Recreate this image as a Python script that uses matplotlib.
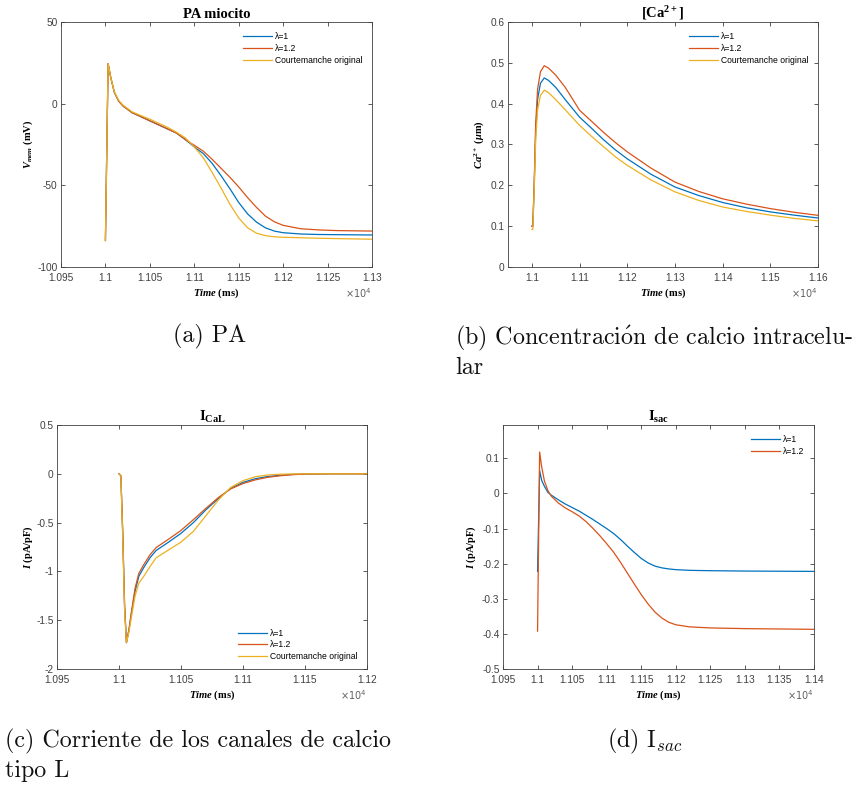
import matplotlib
matplotlib.use("Agg")
import matplotlib.pyplot as plt
from matplotlib.ticker import FixedLocator, FuncFormatter

# ---- data (time in ms) ----
# (a) action potential
t_pa = [11000, 11003, 11006, 11010, 11015, 11020, 11030, 11040, 11050, 11060,
        11070, 11080, 11090, 11100, 11110, 11120, 11130, 11140, 11150, 11160,
        11170, 11180, 11190, 11200, 11220, 11240, 11260, 11300]
v_l1 = [-83.7, 24.5, 16, 7, 1.5, -1.5, -5.5, -8, -10.5, -13,
        -15.5, -18, -22, -26.5, -30.5, -36.5, -44, -52, -60.5, -67.5,
        -72.5, -76, -78, -79, -79.8, -80.1, -80.2, -80.4]
v_l12 = [-83.7, 24.5, 16, 7, 1.5, -1.5, -5.5, -8, -10.5, -13,
         -15.5, -18, -22, -25.5, -29, -34, -39.5, -45, -51, -57.5,
         -63.5, -68.8, -72.3, -74.5, -76.6, -77.3, -77.7, -78]
v_orig = [-84, 24.5, 16, 7.3, 2, -1, -5, -7.3, -9.5, -12,
          -14.5, -17.5, -21, -26.5, -33, -42, -51.5, -61.5, -70, -76,
          -79.3, -80.8, -81.5, -81.8, -82.1, -82.4, -82.6, -83]

# (b) intracellular calcium
t_ca = [11000, 11002, 11005, 11008, 11012, 11018, 11026, 11035, 11050, 11070,
        11100, 11125, 11150, 11175, 11200, 11250, 11300, 11350, 11400, 11450,
        11500, 11550, 11600]
ca_l1 = [0.1, 0.1, 0.2, 0.33, 0.41, 0.45, 0.463, 0.457, 0.44, 0.41,
         0.367, 0.34, 0.312, 0.287, 0.265, 0.227, 0.196, 0.175, 0.158, 0.145,
         0.135, 0.127, 0.12]
ca_l12 = [0.1, 0.1, 0.21, 0.35, 0.435, 0.478, 0.493, 0.487, 0.47, 0.44,
          0.384, 0.357, 0.33, 0.305, 0.282, 0.242, 0.208, 0.185, 0.167, 0.154,
          0.143, 0.134, 0.1265]
ca_orig = [0.092, 0.092, 0.19, 0.31, 0.385, 0.42, 0.433, 0.427, 0.41, 0.385,
           0.347, 0.32, 0.295, 0.27, 0.249, 0.213, 0.184, 0.163, 0.147, 0.136,
           0.127, 0.119, 0.113]

# (c) L-type calcium current
t_cal = [11000, 11001.5, 11003, 11004.5, 11006, 11008, 11010, 11013, 11016, 11020,
         11025, 11030, 11040, 11050, 11060, 11070, 11080, 11090, 11100, 11110,
         11120, 11130, 11140, 11150, 11170, 11200]
ical_l1 = [0, -0.02, -0.6, -1.35, -1.73, -1.6, -1.43, -1.2, -1.05, -0.96,
           -0.86, -0.785, -0.7, -0.61, -0.5, -0.37, -0.255, -0.15, -0.088, -0.05,
           -0.028, -0.015, -0.006, -0.002, 0, 0]
ical_l12 = [0, -0.02, -0.6, -1.35, -1.73, -1.6, -1.42, -1.17, -1.02, -0.93,
            -0.83, -0.755, -0.67, -0.58, -0.47, -0.355, -0.245, -0.155, -0.1, -0.062,
            -0.036, -0.02, -0.009, -0.003, 0, 0]
ical_orig = [0, -0.02, -0.65, -1.4, -1.73, -1.62, -1.47, -1.25, -1.12, -1.05,
             -0.95, -0.86, -0.78, -0.7, -0.59, -0.43, -0.27, -0.14, -0.07, -0.03,
             -0.012, -0.004, -0.001, 0, 0, 0]

# (d) stretch-activated current
t_sac = [11000, 11003, 11006, 11010, 11015, 11020, 11030, 11040, 11050, 11060,
         11070, 11080, 11090, 11100, 11110, 11120, 11130, 11140, 11150, 11160,
         11170, 11180, 11190, 11200, 11220, 11250, 11300, 11400]
isac_l1 = [-0.222, 0.065, 0.037, 0.02, 0.003, -0.005, -0.018, -0.03, -0.04, -0.05,
           -0.062, -0.074, -0.087, -0.1, -0.114, -0.131, -0.15, -0.168, -0.185, -0.198,
           -0.207, -0.212, -0.215, -0.217, -0.219, -0.22, -0.221, -0.222]
isac_l12 = [-0.392, 0.118, 0.075, 0.035, 0.008, -0.008, -0.027, -0.041, -0.052, -0.064,
            -0.08, -0.099, -0.12, -0.143, -0.167, -0.196, -0.227, -0.258, -0.288, -0.315,
            -0.338, -0.355, -0.367, -0.374, -0.38, -0.383, -0.385, -0.387]

labels = ["λ=1", "λ=1.2", "Courtemanche original"]
cap_a = "(a) PA"
cap_b = [r"(b) Concentraci$\acute{\mathrm{o}}$n de calcio intracelu-", "lar"]
cap_c = ["(c) Corriente de los canales de calcio", "tipo L"]
cap_d = "(d) I$_{sac}$"

BLUE, ORANGE, YELLOW = "#0072BD", "#D95319", "#EDB120"
AXC = "#404040"

plt.rcParams.update({
    "font.family": ["Liberation Sans", "DejaVu Sans"],
    "axes.unicode_minus": False,
    "mathtext.fontset": "custom",
    "mathtext.rm": "Liberation Serif:bold",
    "mathtext.it": "Liberation Serif:italic:bold",
    "mathtext.bf": "Liberation Serif:bold",
})

W, H = 857, 785
fig = plt.figure(figsize=(W / 100, H / 100), dpi=100)


def px_axes(left, top, right, bottom):
    return fig.add_axes([left / W, 1 - bottom / H, (right - left) / W, (bottom - top) / H])


def style(ax, xlim, xticks, ylim, yticks, title, ylabel, ylab_x):
    ax.set_xlim(xlim)
    ax.set_ylim(ylim)
    ax.xaxis.set_major_locator(FixedLocator(xticks))
    ax.yaxis.set_major_locator(FixedLocator(yticks))
    ax.xaxis.set_major_formatter(FuncFormatter(lambda v, p: f"{v / 1e4:g}"))
    ax.yaxis.set_major_formatter(FuncFormatter(lambda v, p: f"{v:g}"))
    ax.tick_params(direction="in", top=True, right=True, length=3, width=0.6,
                   labelsize=7.3, colors=AXC)
    ax.tick_params(axis="x", pad=4)
    ax.tick_params(axis="y", pad=2.5)
    for s in ax.spines.values():
        s.set_color(AXC)
        s.set_linewidth(0.6)
    ax.set_title(title, family="Liberation Serif", fontweight="bold", fontsize=10.5, pad=3)
    ax.set_ylabel(ylabel, family="Liberation Serif", fontweight="bold", fontsize=7.6)
    ax.yaxis.set_label_coords(ylab_x, 0.5)
    ax.set_xlabel(r"$Time$ (ms)", family="Liberation Serif", fontweight="bold", fontsize=7.6)
    ax.xaxis.set_label_coords(0.5, -0.08)
    ax.text(1.0, -0.107, r"$\times10^{4}$", transform=ax.transAxes, ha="right", va="center",
            fontsize=7, color="#606060", math_fontfamily="dejavusans")


def legend(ax, loc, anchor):
    ax.legend(loc=loc, bbox_to_anchor=anchor, frameon=False, fontsize=6.2,
              handlelength=3.3, handletextpad=0.4, labelspacing=0.3, borderpad=0)


lw = 0.9

# (a)
ax = px_axes(61, 22, 372, 267)
ax.plot(t_pa, v_l1, color=BLUE, lw=lw, label=labels[0])
ax.plot(t_pa, v_l12, color=ORANGE, lw=lw, label=labels[1])
ax.plot(t_pa, v_orig, color=YELLOW, lw=lw, label=labels[2])
style(ax, (10950, 11300), range(10950, 11301, 50), (-100, 50), [-100, -50, 0, 50],
      "PA miocito", r"$V_{mem}$ (mV)", -0.085)
legend(ax, "upper right", (0.984, 0.975))

# (b)
ax = px_axes(508, 22, 818, 267)
ax.plot(t_ca, ca_l1, color=BLUE, lw=lw, label=labels[0])
ax.plot(t_ca, ca_l12, color=ORANGE, lw=lw, label=labels[1])
ax.plot(t_ca, ca_orig, color=YELLOW, lw=lw, label=labels[2])
style(ax, (10950, 11600), range(11000, 11601, 100), (0, 0.6),
      [0, 0.1, 0.2, 0.3, 0.4, 0.5, 0.6],
      r"[Ca$^{2+}$]", r"$Ca^{2+}$ ($\mu$m)", -0.07)
legend(ax, "upper right", (0.984, 0.975))

# (c)
ax = px_axes(57, 425, 367, 669)
ax.plot(t_cal, ical_l1, color=BLUE, lw=lw, label=labels[0])
ax.plot(t_cal, ical_l12, color=ORANGE, lw=lw, label=labels[1])
ax.plot(t_cal, ical_orig, color=YELLOW, lw=lw, label=labels[2])
style(ax, (10950, 11200), range(10950, 11201, 50), (-2, 0.5),
      [-2, -1.5, -1, -0.5, 0, 0.5],
      r"I$_{\mathrm{CaL}}$", r"$I$ (pA/pF)", -0.07)
legend(ax, "lower right", (0.984, 0.015))

# (d)
ax = px_axes(503, 425, 814, 669)
ax.plot(t_sac, isac_l1, color=BLUE, lw=lw, label=labels[0])
ax.plot(t_sac, isac_l12, color=ORANGE, lw=lw, label=labels[1])
style(ax, (10950, 11400), range(10950, 11401, 50), (-0.5, 0.195),
      [-0.5, -0.4, -0.3, -0.2, -0.1, 0, 0.1],
      r"I$_{\mathrm{sac}}$", r"$I$ (pA/pF)", -0.08)
legend(ax, "upper right", (0.984, 0.975))

# captions (baselines in pixels from top)
cap_kw = dict(family=["cmr10", "DejaVu Serif"], fontsize=17.3, math_fontfamily="cm",
              color="#111111", va="baseline")
fig.text(210 / W, 1 - 342 / H, cap_a, ha="center", **cap_kw)
fig.text(455 / W, 1 - 344 / H, cap_b[0], ha="left", **cap_kw)
fig.text(455 / W, 1 - 374 / H, cap_b[1], ha="left", **cap_kw)
fig.text(5 / W, 1 - 747 / H, cap_c[0], ha="left", **cap_kw)
fig.text(5 / W, 1 - 777 / H, cap_c[1], ha="left", **cap_kw)
fig.text(645 / W, 1 - 747 / H, cap_d, ha="center", **cap_kw)

fig.savefig("out.png", dpi=100)
